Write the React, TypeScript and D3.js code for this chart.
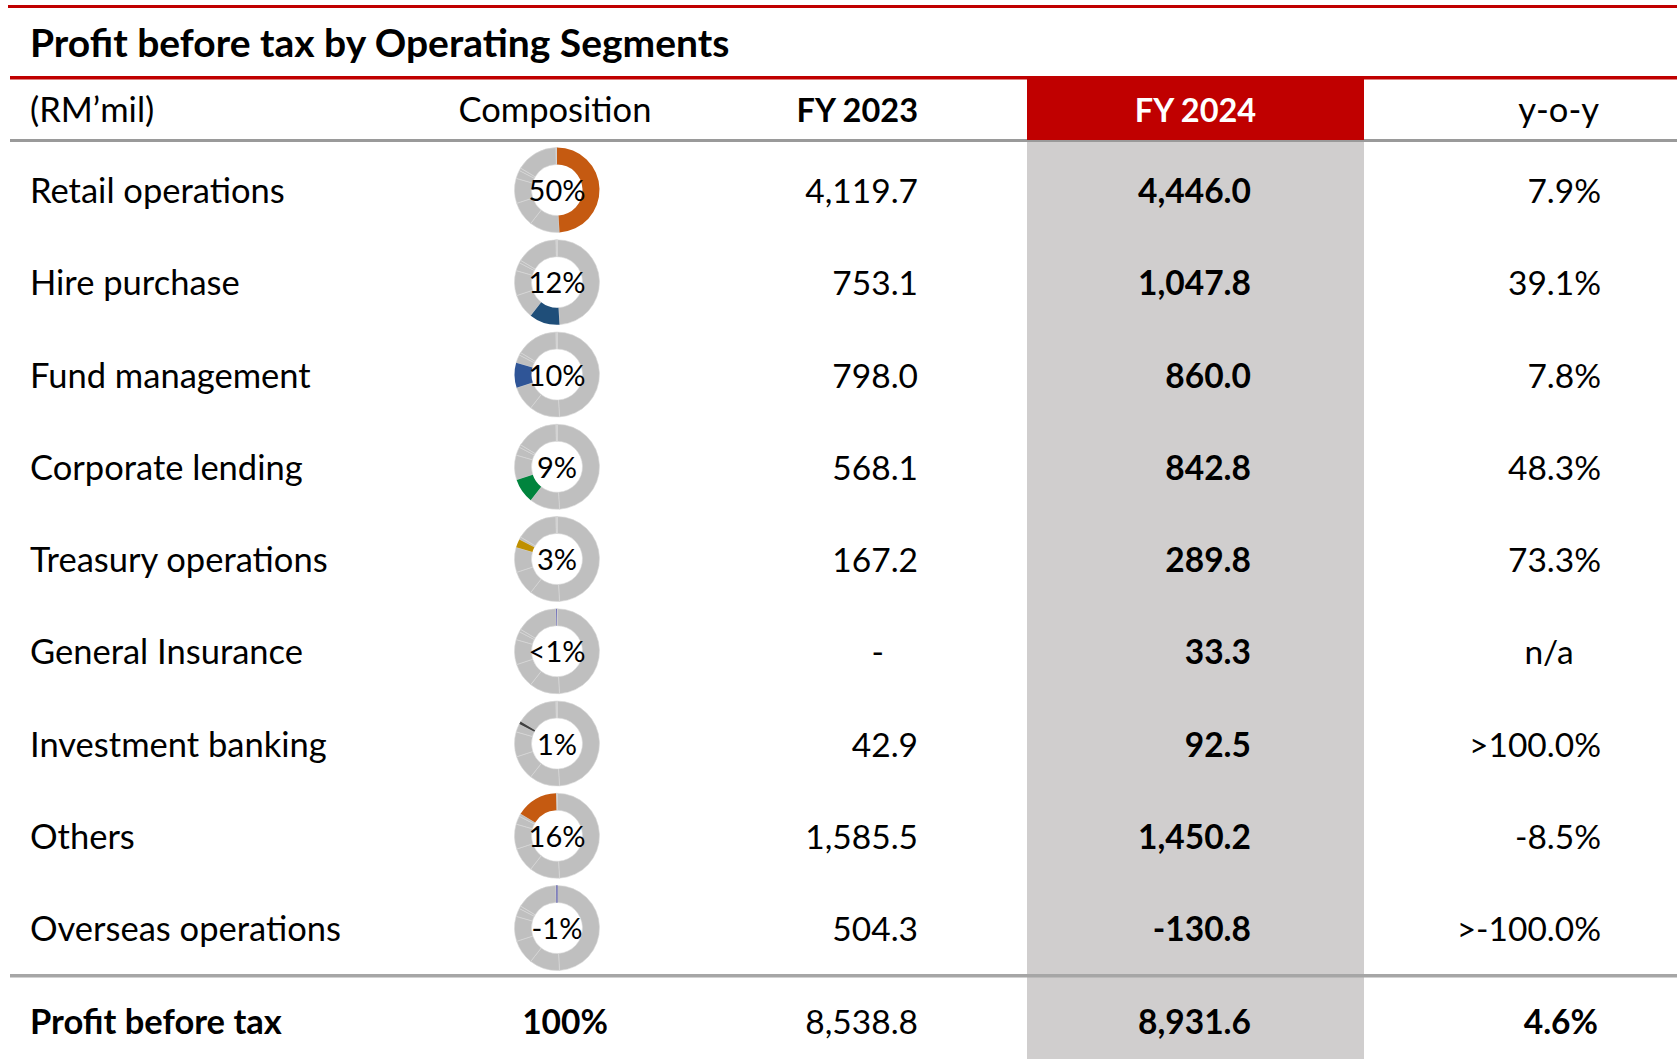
import * as d3 from "d3";

// Operating segments, in table order
const segments = [
  "Retail operations",
  "Hire purchase",
  "Fund management",
  "Corporate lending",
  "Treasury operations",
  "General Insurance",
  "Investment banking",
  "Others",
  "Overseas operations",
];
const fy2023: (number | null)[] = [4119.7, 753.1, 798.0, 568.1, 167.2, null, 42.9, 1585.5, 504.3];
const fy2024 = [4446.0, 1047.8, 860.0, 842.8, 289.8, 33.3, 92.5, 1450.2, -130.8];
const yoy = ["7.9%", "39.1%", "7.8%", "48.3%", "73.3%", "n/a", ">100.0%", "-8.5%", ">-100.0%"];
const compositionLabels = ["50%", "12%", "10%", "9%", "3%", "<1%", "1%", "16%", "-1%"];
const segmentColors = ["#C55A11", "#1F4E79", "#2F5597", "#00843D", "#BF9000", "#6F6FB8", "#404040", "#C55A11", "#6F6FB8"];

// order of the slices inside every donut (clockwise from 12 o'clock)
const donutOrder = [
  "Retail operations",
  "Hire purchase",
  "Corporate lending",
  "Fund management",
  "Treasury operations",
  "Investment banking",
  "Others",
  "General Insurance",
  "Overseas operations",
];

const totalLabel = "Profit before tax";
const totalComposition = "100%";
const total2023 = 8538.8;
const total2024 = 8931.6;
const totalYoy = "4.6%";

const W = 1677;
const H = 1059;
const RED = "#C00000";
const FONT = "Lato, 'Open Sans', sans-serif";
const LABEL_SIZE = 34.5;
const NUM_SIZE = 33.5;

const fmt = (v: number) => d3.format(",.1f")(v).replace("\u2212", "-");

const col = {
  label: 30,
  comp: 557,
  fy23: 918,
  fy24Left: 1027,
  fy24Right: 1364,
  fy24: 1251,
  yoy: 1601,
};

function Donut({ name, cx, cy, label }: { name: string; cx: number; cy: number; label: string }) {
  const values = donutOrder.map((s) => Math.max(0, fy2024[segments.indexOf(s)]));
  const pie = d3.pie<number>().sort(null).value((d) => d);
  const arcs = pie(values);
  const arc = d3.arc<d3.PieArcDatum<number>>().innerRadius(25.5).outerRadius(42.5);
  const hair = d3.arc<any>().innerRadius(25.5).outerRadius(42.5);
  const idx = donutOrder.indexOf(name);
  const color = segmentColors[segments.indexOf(name)];
  const a = arcs[idx];
  const tiny = a.endAngle - a.startAngle < 0.012;
  return (
    <g transform={`translate(${cx},${cy})`}>
      {arcs.map((d, i) =>
        i === idx ? null : (
          <path key={i} d={arc(d) || ""} fill="#BFBFBF" stroke="#D9D9D9" strokeWidth={0.6} />
        )
      )}
      {tiny ? (
        <path
          d={hair({ startAngle: a.startAngle - 0.008, endAngle: a.startAngle + 0.004 }) || ""}
          fill={color}
          stroke={color}
          strokeWidth={0.8}
        />
      ) : (
        <path d={arc(a) || ""} fill={color} />
      )}
      <text x={0} y={11} textAnchor="middle" fontSize={29} fill="#000">
        {label}
      </text>
    </g>
  );
}

export default function App() {
  const rowY = d3.scalePoint<string>().domain(segments).range([203, 941]);
  const totalY = 1034;

  return (
    <div style={{ position: "absolute", left: 0, top: 0, width: W, height: H, background: "#fff" }}>
      <svg width={W} height={H} style={{ display: "block", fontFamily: FONT }}>
        <rect x={0} y={0} width={W} height={H} fill="#fff" />

        {/* FY 2024 highlighted column */}
        <rect x={col.fy24Left} y={140} width={col.fy24Right - col.fy24Left} height={H - 140} fill="#D0CECE" />

        {/* rules */}
        <rect x={8} y={5} width={W - 8} height={3} fill={RED} />
        <rect x={10} y={76} width={W - 10} height={3.5} fill={RED} />
        <rect x={10} y={139} width={W - 10} height={3} fill="#9A9A9A" />
        <rect x={10} y={974} width={W - 10} height={3.5} fill="#A6A6A6" />
        <rect x={col.fy24Left} y={79} width={col.fy24Right - col.fy24Left} height={61} fill={RED} />

        {/* title */}
        <text x={col.label} y={57} fontSize={39} fontWeight={700} fill="#000">
          Profit before tax by Operating Segments
        </text>

        {/* header */}
        <g fontSize={LABEL_SIZE} fill="#000">
          <text x={col.label} y={122}>(RM’mil)</text>
          <text x={col.comp - 2} y={122} textAnchor="middle">Composition</text>
          <text x={col.fy23} y={122} textAnchor="end" fontWeight={700} fontSize={32.5}>FY 2023</text>
          <text x={(col.fy24Left + col.fy24Right) / 2} y={122} textAnchor="middle" fontWeight={700} fontSize={32.5} fill="#fff">
            FY 2024
          </text>
          <text x={col.yoy - 2} y={122} textAnchor="end">y-o-y</text>
        </g>

        {/* segment rows */}
        {segments.map((s, i) => {
          const y = rowY(s) as number;
          const v23 = fy2023[i];
          return (
            <g key={s} fill="#000">
              <text x={col.label} y={y} fontSize={LABEL_SIZE}>{s}</text>
              <Donut name={s} cx={col.comp} cy={y - 13} label={compositionLabels[i]} />
              <g fontSize={NUM_SIZE}>
                {v23 === null ? (
                  <text x={col.fy23 - 34} y={y} textAnchor="end">-</text>
                ) : (
                  <text x={col.fy23} y={y} textAnchor="end">{fmt(v23)}</text>
                )}
                <text x={col.fy24} y={y} textAnchor="end" fontWeight={700}>{fmt(fy2024[i])}</text>
                {yoy[i] === "n/a" ? (
                  <text x={col.yoy - 52} y={y} textAnchor="middle">{yoy[i]}</text>
                ) : (
                  <text x={col.yoy} y={y} textAnchor="end">{yoy[i]}</text>
                )}
              </g>
            </g>
          );
        })}

        {/* total row */}
        <g fontSize={NUM_SIZE} fill="#000">
          <text x={col.label} y={totalY} fontSize={LABEL_SIZE} fontWeight={700}>{totalLabel}</text>
          <text x={col.comp + 8} y={totalY} textAnchor="middle" fontWeight={700}>{totalComposition}</text>
          <text x={col.fy23} y={totalY} textAnchor="end">{fmt(total2023)}</text>
          <text x={col.fy24} y={totalY} textAnchor="end" fontWeight={700}>{fmt(total2024)}</text>
          <text x={col.yoy - 3} y={totalY} textAnchor="end" fontWeight={700}>{totalYoy}</text>
        </g>
      </svg>
    </div>
  );
}
